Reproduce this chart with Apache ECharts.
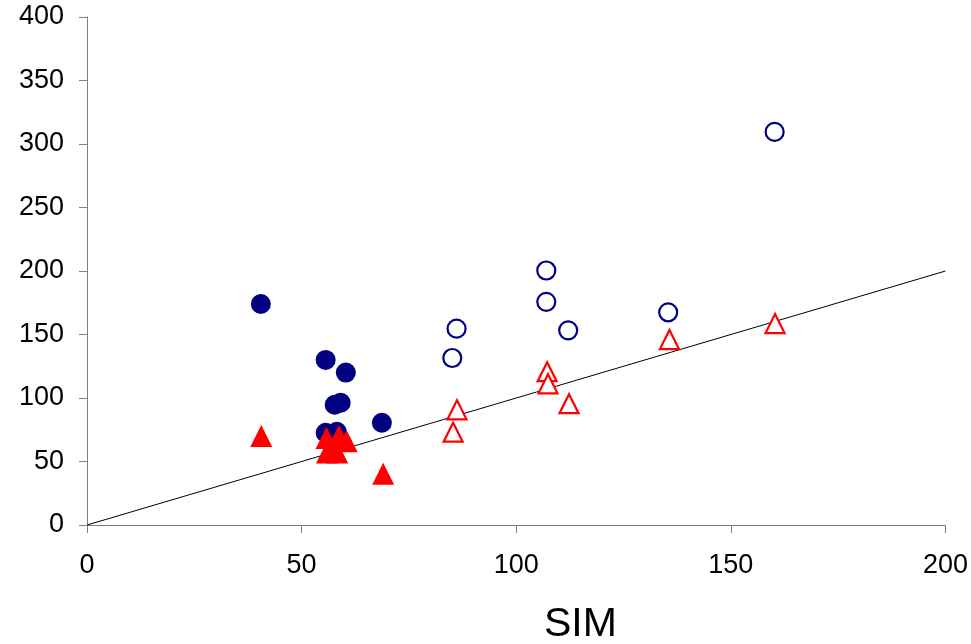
<!DOCTYPE html>
<html>
<head>
<meta charset="utf-8">
<style>
  html, body { margin: 0; padding: 0; background: #fff; }
  #chart { width: 971px; height: 644px; }
</style>
<script src="https://cdn.jsdelivr.net/npm/echarts@6/dist/echarts.min.js"></script>
</head>
<body>
<div id="chart"></div>
<script>
// Group A (filled markers)
const filledCircles = [
  [40.5, 174], [55.6, 130], [60.3, 120], [57.7, 94.7],
  [59.1, 96.3], [55.6, 72.6], [58.2, 73.4], [68.7, 80.5]
];
const filledTriangles = [
  [40.6, 70], [55.8, 68.6], [58.7, 70], [60.5, 66],
  [55.9, 57], [58.3, 57], [57.7, 60], [69, 40.4]
];
// Group B (open markers)
const openCircles = [
  [107.0, 200.4], [107.0, 175.7], [86.1, 154.6], [112.1, 153.3],
  [85.1, 131.5], [160.2, 309.5], [135.4, 167.5]
];
const openTriangles = [
  [107.2, 120.7], [107.4, 111.2], [112.3, 95.5], [86.2, 90.7],
  [85.3, 73.1], [135.7, 146], [160.3, 158.6]
];
// 1:1 reference line
const identityLine = [[0, 0], [200, 200]];

const xTicks = [0, 50, 100, 150, 200];
const yTicks = [0, 50, 100, 150, 200, 250, 300, 350, 400];

const navy = '#000080';
const red = '#ff0000';
const axisGray = '#808080';
const font = 'Liberation Sans, Arial, sans-serif';

const chart = echarts.init(document.getElementById('chart'), null, { renderer: 'canvas' });
chart.setOption({
  animation: false,
  backgroundColor: '#ffffff',
  grid: { left: 87, right: 25, top: 17, bottom: 119, containLabel: false },
  xAxis: {
    type: 'value', min: xTicks[0], max: xTicks[xTicks.length - 1], interval: 50,
    axisLine: { onZero: false, lineStyle: { color: axisGray, width: 1 } },
    axisTick: { show: true, length: 8, lineStyle: { color: axisGray } },
    axisLabel: { color: '#000', fontSize: 27, fontFamily: font, margin: 27 },
    splitLine: { show: false }
  },
  yAxis: {
    type: 'value', min: yTicks[0], max: yTicks[yTicks.length - 1], interval: 50,
    axisLine: { show: true, onZero: false, lineStyle: { color: axisGray, width: 1 } },
    axisTick: { show: true, length: 8, lineStyle: { color: axisGray } },
    axisLabel: { color: '#000', fontSize: 27, fontFamily: font, margin: 23 },
    splitLine: { show: false }
  },
  graphic: [{
    type: 'text', left: 544, top: 604,
    style: { text: 'SIM', fill: '#000', font: '41px ' + font }
  }],
  series: [
    {
      type: 'line', data: identityLine, showSymbol: false, symbol: 'none',
      lineStyle: { color: '#000', width: 1 }, z: 1, silent: true
    },
    {
      type: 'scatter', data: openCircles, symbol: 'circle', symbolSize: 18,
      itemStyle: { color: '#fff', borderColor: navy, borderWidth: 2.2, opacity: 1 }, z: 3
    },
    {
      type: 'scatter', data: openTriangles, symbol: 'triangle', symbolSize: 19,
      itemStyle: { color: '#fff', borderColor: red, borderWidth: 2.2, opacity: 1 }, z: 3
    },
    {
      type: 'scatter', data: filledCircles, symbol: 'circle', symbolSize: 20,
      itemStyle: { color: navy, opacity: 1 }, z: 4
    },
    {
      type: 'scatter', data: filledTriangles, symbol: 'triangle', symbolSize: 22,
      itemStyle: { color: red, opacity: 1 }, z: 5
    }
  ]
});
</script>
</body>
</html>
